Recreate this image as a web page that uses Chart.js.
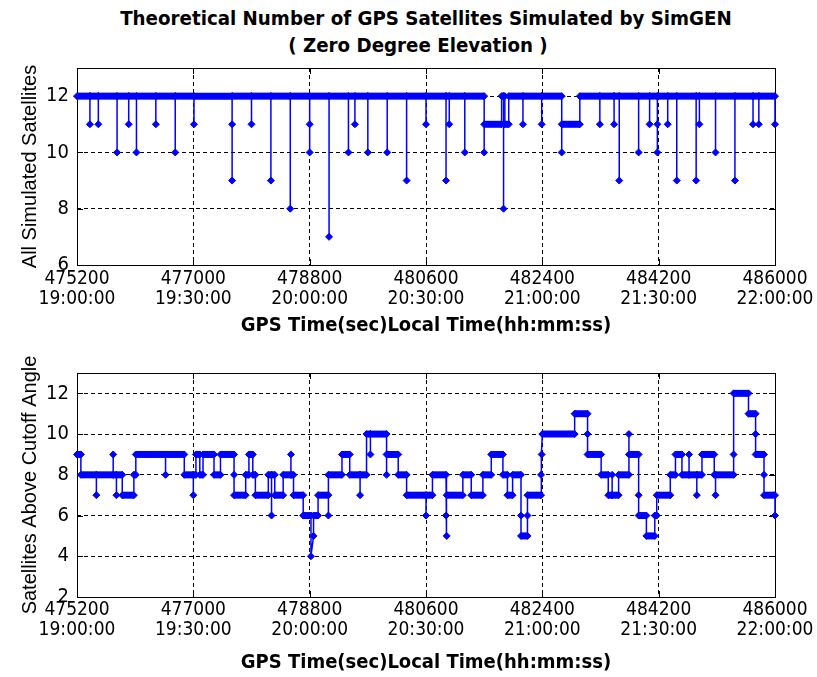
<!DOCTYPE html>
<html>
<head>
<meta charset="utf-8">
<title>GPS Satellites Simulated by SimGEN</title>
<script src="https://cdn.jsdelivr.net/npm/chart.js@4.4.0/dist/chart.umd.min.js"></script>
<style>
  html, body { margin: 0; padding: 0; background: #fff; }
  body { width: 817px; height: 677px; position: relative; overflow: hidden; }
  .tieuDe {
    position: absolute; text-align: center; color: #000;
    font-family: 'Liberation Sans Narrow', 'DejaVu Sans Condensed', sans-serif;
    font-weight: bold; font-size: 20.3px; line-height: 26px;
  }
  canvas { position: absolute; left: 0; }
</style>
</head>
<body>
<div class="tieuDe" style="top:5px; left:0; width:852px">Theoretical Number of GPS Satellites Simulated by SimGEN</div>
<div class="tieuDe" style="top:32px; left:0; width:836px">( Zero Degree Elevation )</div>
<canvas id="bieuDoTatCa" width="817" height="290" style="top:56px"></canvas>
<canvas id="bieuDoTrenGoc" width="817" height="339" style="top:338px"></canvas>
<script>
// GPS seconds of week shown on the x axis, local time = GPS + 7 h
const gioBatDau = 475200;
const gioKetThuc = 486000;
const buocGio = 1800;
const lechMuiGio = 7 * 3600;

// All simulated satellites (sample time in GPS sec, number of satellites)
const thoiGianTatCa = [
  475200,
  475400, 475400, 475400,
  475530, 475530, 475530,
  475820, 475820, 475820,
  476000, 476000, 476000,
  476120, 476120, 476120,
  476420, 476420, 476420,
  476720, 476720, 476720,
  477010, 477010, 477010,
  477600, 477600, 477600, 477600,
  477900, 477900, 477900,
  478200, 478200, 478200,
  478500, 478500, 478500,
  478800, 478800, 478800, 478800,
  479100, 479100, 479100,
  479400, 479400, 479400,
  479500, 479500, 479500,
  479700, 479700, 479700,
  480000, 480000, 480000,
  480300, 480300, 480300,
  480600, 480600, 480600,
  480910, 480910, 480910,
  480960, 480960, 480960,
  481200, 481200, 481200,
  481500, 481500, 481500, 481770, 481770,
  481800, 481800, 481800,
  481820, 481820, 481880, 481880,
  482100, 482100, 482100,
  482390, 482390, 482390,
  482700, 482700, 482700, 482980, 482980,
  483290, 483290, 483290,
  483510, 483510, 483510,
  483590, 483590, 483590,
  483890, 483890, 483890,
  484060, 484060, 484060,
  484180, 484180, 484180, 484180,
  484340, 484340, 484340,
  484480, 484480, 484480,
  484780, 484780, 484780,
  484830, 484830, 484830,
  485080, 485080, 485080,
  485380, 485380, 485380,
  485660, 485660, 485660,
  485750, 485750, 485750,
  486000, 486000
];
const soVeTinhTatCa = [
  12,
  12, 11, 12,
  12, 11, 12,
  12, 10, 12,
  12, 11, 12,
  12, 10, 12,
  12, 11, 12,
  12, 10, 12,
  12, 11, 12,
  12, 11, 9, 12,
  12, 11, 12,
  12, 9, 12,
  12, 8, 12,
  12, 11, 10, 12,
  12, 7, 12,
  12, 10, 12,
  12, 11, 12,
  12, 10, 12,
  12, 10, 12,
  12, 9, 12,
  12, 11, 12,
  12, 9, 12,
  12, 11, 12,
  12, 10, 12,
  12, 10, 11, 11, 12,
  12, 8, 12,
  12, 11, 11, 12,
  12, 11, 12,
  12, 11, 12,
  12, 10, 11, 11, 12,
  12, 11, 12,
  12, 11, 12,
  12, 9, 12,
  12, 10, 12,
  12, 11, 12,
  12, 11, 10, 12,
  12, 11, 12,
  12, 9, 12,
  12, 9, 12,
  12, 11, 12,
  12, 10, 12,
  12, 9, 12,
  12, 11, 12,
  12, 11, 12,
  12, 11
];

// Satellites above the cutoff angle
const thoiGianTrenGoc = [
  475200, 475260, 475260,
  475500, 475500, 475500,
  475760, 475760, 475760,
  475810, 475810, 475810,
  475900, 475900,
  476080, 476080,
  476110, 476110,
  476570, 476570, 476570,
  476860, 476860,
  477000, 477000, 477000,
  477040, 477040,
  477100, 477100,
  477150, 477150,
  477320, 477320,
  477420, 477420,
  477630, 477630, 477630,
  477810, 477810,
  477860, 477860,
  477920, 477920,
  477960, 477960,
  478160, 478160,
  478210, 478210, 478210,
  478260, 478260,
  478390, 478390,
  478510, 478510, 478510,
  478550, 478550,
  478700, 478700,
  478820, 478820,
  478860, 478860,
  478930, 478930,
  479090, 479090, 479090,
  479300, 479300,
  479420, 479420,
  479580, 479580, 479580,
  479680, 479680,
  479740, 479740, 479740,
  479990, 479990, 479990,
  480170, 480170,
  480300, 480300,
  480600, 480600, 480600,
  480700, 480700,
  480910, 480910, 480920, 480920,
  481170, 481170,
  481300, 481300,
  481480, 481480,
  481610, 481610,
  481790, 481790,
  481860, 481860,
  481940, 481940,
  482070, 482070, 482070,
  482170, 482170, 482170,
  482380, 482380, 482390, 482400,
  482900, 482900,
  483100, 483100, 483100,
  483310, 483310,
  483420, 483420,
  483480, 483480, 483480,
  483580, 483580,
  483740, 483740, 483740,
  483890, 483890, 483890,
  484010, 484010,
  484140, 484140,
  484170, 484170,
  484380, 484380,
  484460, 484460,
  484560, 484560,
  484670, 484670, 484670,
  484790, 484790, 484790,
  484870, 484870,
  485060, 485060,
  485080, 485080, 485080,
  485360, 485360, 485360,
  485590, 485590,
  485700, 485700, 485700,
  485830, 485830, 485830,
  486000, 486000
];
const soVeTinhTrenGoc = [
  9, 9, 8,
  8, 7, 8,
  8, 9, 8,
  8, 7, 8,
  8, 7,
  7, 8,
  8, 9,
  9, 8, 9,
  9, 8,
  8, 7, 8,
  8, 9,
  9, 8,
  8, 9,
  9, 8,
  8, 9,
  9, 8, 7,
  7, 8,
  8, 9,
  9, 8,
  8, 7,
  7, 8,
  8, 6, 8,
  8, 7,
  7, 8,
  8, 9, 8,
  8, 7,
  7, 6,
  6, 4,
  5, 6,
  6, 7,
  7, 6, 8,
  8, 9,
  9, 8,
  8, 7, 8,
  8, 10,
  10, 9, 10,
  10, 8, 9,
  9, 8,
  8, 7,
  7, 6, 7,
  7, 8,
  8, 6, 5, 7,
  7, 8,
  8, 7,
  7, 8,
  8, 9,
  9, 8,
  8, 7,
  7, 8,
  8, 6, 5,
  5, 6, 7,
  7, 8, 9, 10,
  10, 11,
  11, 10, 9,
  9, 8,
  8, 7,
  7, 8, 7,
  7, 8,
  8, 10, 9,
  9, 7, 6,
  6, 5,
  5, 6,
  6, 7,
  7, 8,
  8, 9,
  9, 8,
  8, 9, 8,
  8, 7, 8,
  8, 9,
  9, 8,
  8, 7, 8,
  8, 9, 12,
  12, 11,
  11, 10, 9,
  9, 8, 7,
  7, 6
];

const mauXanh = 'rgb(0, 0, 255)';
const fontHep = "'Liberation Sans Narrow', 'DejaVu Sans Condensed', sans-serif";
const fontThuong = "'Liberation Sans', Arial, sans-serif";

function nhanTrucX(giaTri) {
    const s = ((giaTri + lechMuiGio) % 86400 + 86400) % 86400;
    const hai = n => String(n).padStart(2, '0');
    const gio = hai(Math.floor(s / 3600));
    const phut = hai(Math.floor(s / 60) % 60);
    const giay = hai(s % 60);
    return [String(giaTri), `${gio}:${phut}:${giay}`];
}

// khung đen quanh vùng vẽ và vạch chia hướng vào trong
const khungBieuDo = {
    id: 'khungBieuDo',
    beforeDatasetsDraw(chart) {
        const { ctx, chartArea: a, scales: { x, y } } = chart;
        ctx.save();
        ctx.strokeStyle = '#000';
        ctx.lineWidth = 1;
        ctx.beginPath();
        x.ticks.forEach(t => {
            const px = Math.round(x.getPixelForValue(t.value)) + 0.5;
            ctx.moveTo(px, a.top); ctx.lineTo(px, a.top + 6);
            ctx.moveTo(px, a.bottom); ctx.lineTo(px, a.bottom - 6);
        });
        y.ticks.forEach(t => {
            const py = Math.round(y.getPixelForValue(t.value)) + 0.5;
            ctx.moveTo(a.left, py); ctx.lineTo(a.left + 6, py);
            ctx.moveTo(a.right, py); ctx.lineTo(a.right - 6, py);
        });
        ctx.stroke();
        ctx.strokeRect(Math.round(a.left) + 0.5, Math.round(a.top) + 0.5,
            Math.round(a.right - a.left), Math.round(a.bottom - a.top));
        ctx.restore();
    }
};

function veBieuDo(idCanvas, thoiGian, soVeTinh, yMin, yMax, tenTrucY, cauHinh) {
    const ctx = document.getElementById(idCanvas).getContext('2d');
    const diem = thoiGian.map((t, i) => ({ x: t, y: soVeTinh[i] }));

    return new Chart(ctx, {
        type: 'line',
        data: {
            datasets: [{
                data: diem,
                borderColor: mauXanh,
                borderWidth: 1.5,
                pointStyle: 'rectRot',
                pointRadius: 3.5,
                pointBackgroundColor: mauXanh,
                pointBorderColor: mauXanh,
                pointBorderWidth: 1,
                tension: 0,
                fill: false,
                clip: 8,
                segment: {
                    // đoạn nằm ngang dày như chuỗi điểm chồng lên nhau
                    borderWidth: c => c.p0.parsed.y === c.p1.parsed.y ? 7 : 1.5
                }
            }]
        },
        options: {
            responsive: false,
            animation: false,
            devicePixelRatio: 1,
            layout: { padding: { left: 0, right: 42, top: cauHinh.dinh, bottom: 0 } },
            plugins: { legend: { display: false }, tooltip: { enabled: false } },
            scales: {
                x: {
                    type: 'linear',
                    min: gioBatDau,
                    max: gioKetThuc,
                    ticks: {
                        stepSize: buocGio,
                        autoSkip: false,
                        maxRotation: 0,
                        color: '#000',
                        padding: cauHinh.dem,
                        font: { family: fontHep, size: 19, lineHeight: 1.05 },
                        callback: nhanTrucX
                    },
                    grid: { color: '#000', lineWidth: 1, drawTicks: false },
                    border: { display: false, dash: [4, 3] },
                    title: {
                        display: true,
                        text: 'GPS Time(sec)Local Time(hh:mm:ss)',
                        color: '#000',
                        font: { family: fontHep, size: 20, weight: 'bold', lineHeight: 1.2 },
                        padding: { top: 0, bottom: cauHinh.duoiTieuDe }
                    },
                    afterFit: s => { s.height = cauHinh.caoTrucX; s.paddingLeft = 0; s.paddingRight = 0; }
                },
                y: {
                    min: yMin,
                    max: yMax,
                    ticks: {
                        stepSize: 2,
                        includeBounds: false,
                        color: '#000',
                        padding: 8,
                        font: { family: fontHep, size: 20 }
                    },
                    grid: { color: '#000', lineWidth: 1, drawTicks: false },
                    border: { display: false, dash: [4, 3] },
                    title: {
                        display: true,
                        text: tenTrucY,
                        color: '#000',
                        font: { family: fontThuong, size: 20, lineHeight: 1.2 },
                        padding: { top: 18, bottom: 0 }
                    },
                    afterFit: s => { s.width = 77; s.paddingTop = 0; s.paddingBottom = 0; }
                }
            }
        },
        plugins: [khungBieuDo]
    });
}

veBieuDo('bieuDoTatCa', thoiGianTatCa, soVeTinhTatCa, 6, 13, 'All Simulated Satellites',
    { dinh: 12, caoTrucX: 81, dem: 4, duoiTieuDe: 8 });
veBieuDo('bieuDoTrenGoc', thoiGianTrenGoc, soVeTinhTrenGoc, 2, 13, 'Satellites Above Cutoff Angle',
    { dinh: 35, caoTrucX: 80, dem: 3, duoiTieuDe: 2 });
</script>
</body>
</html>
